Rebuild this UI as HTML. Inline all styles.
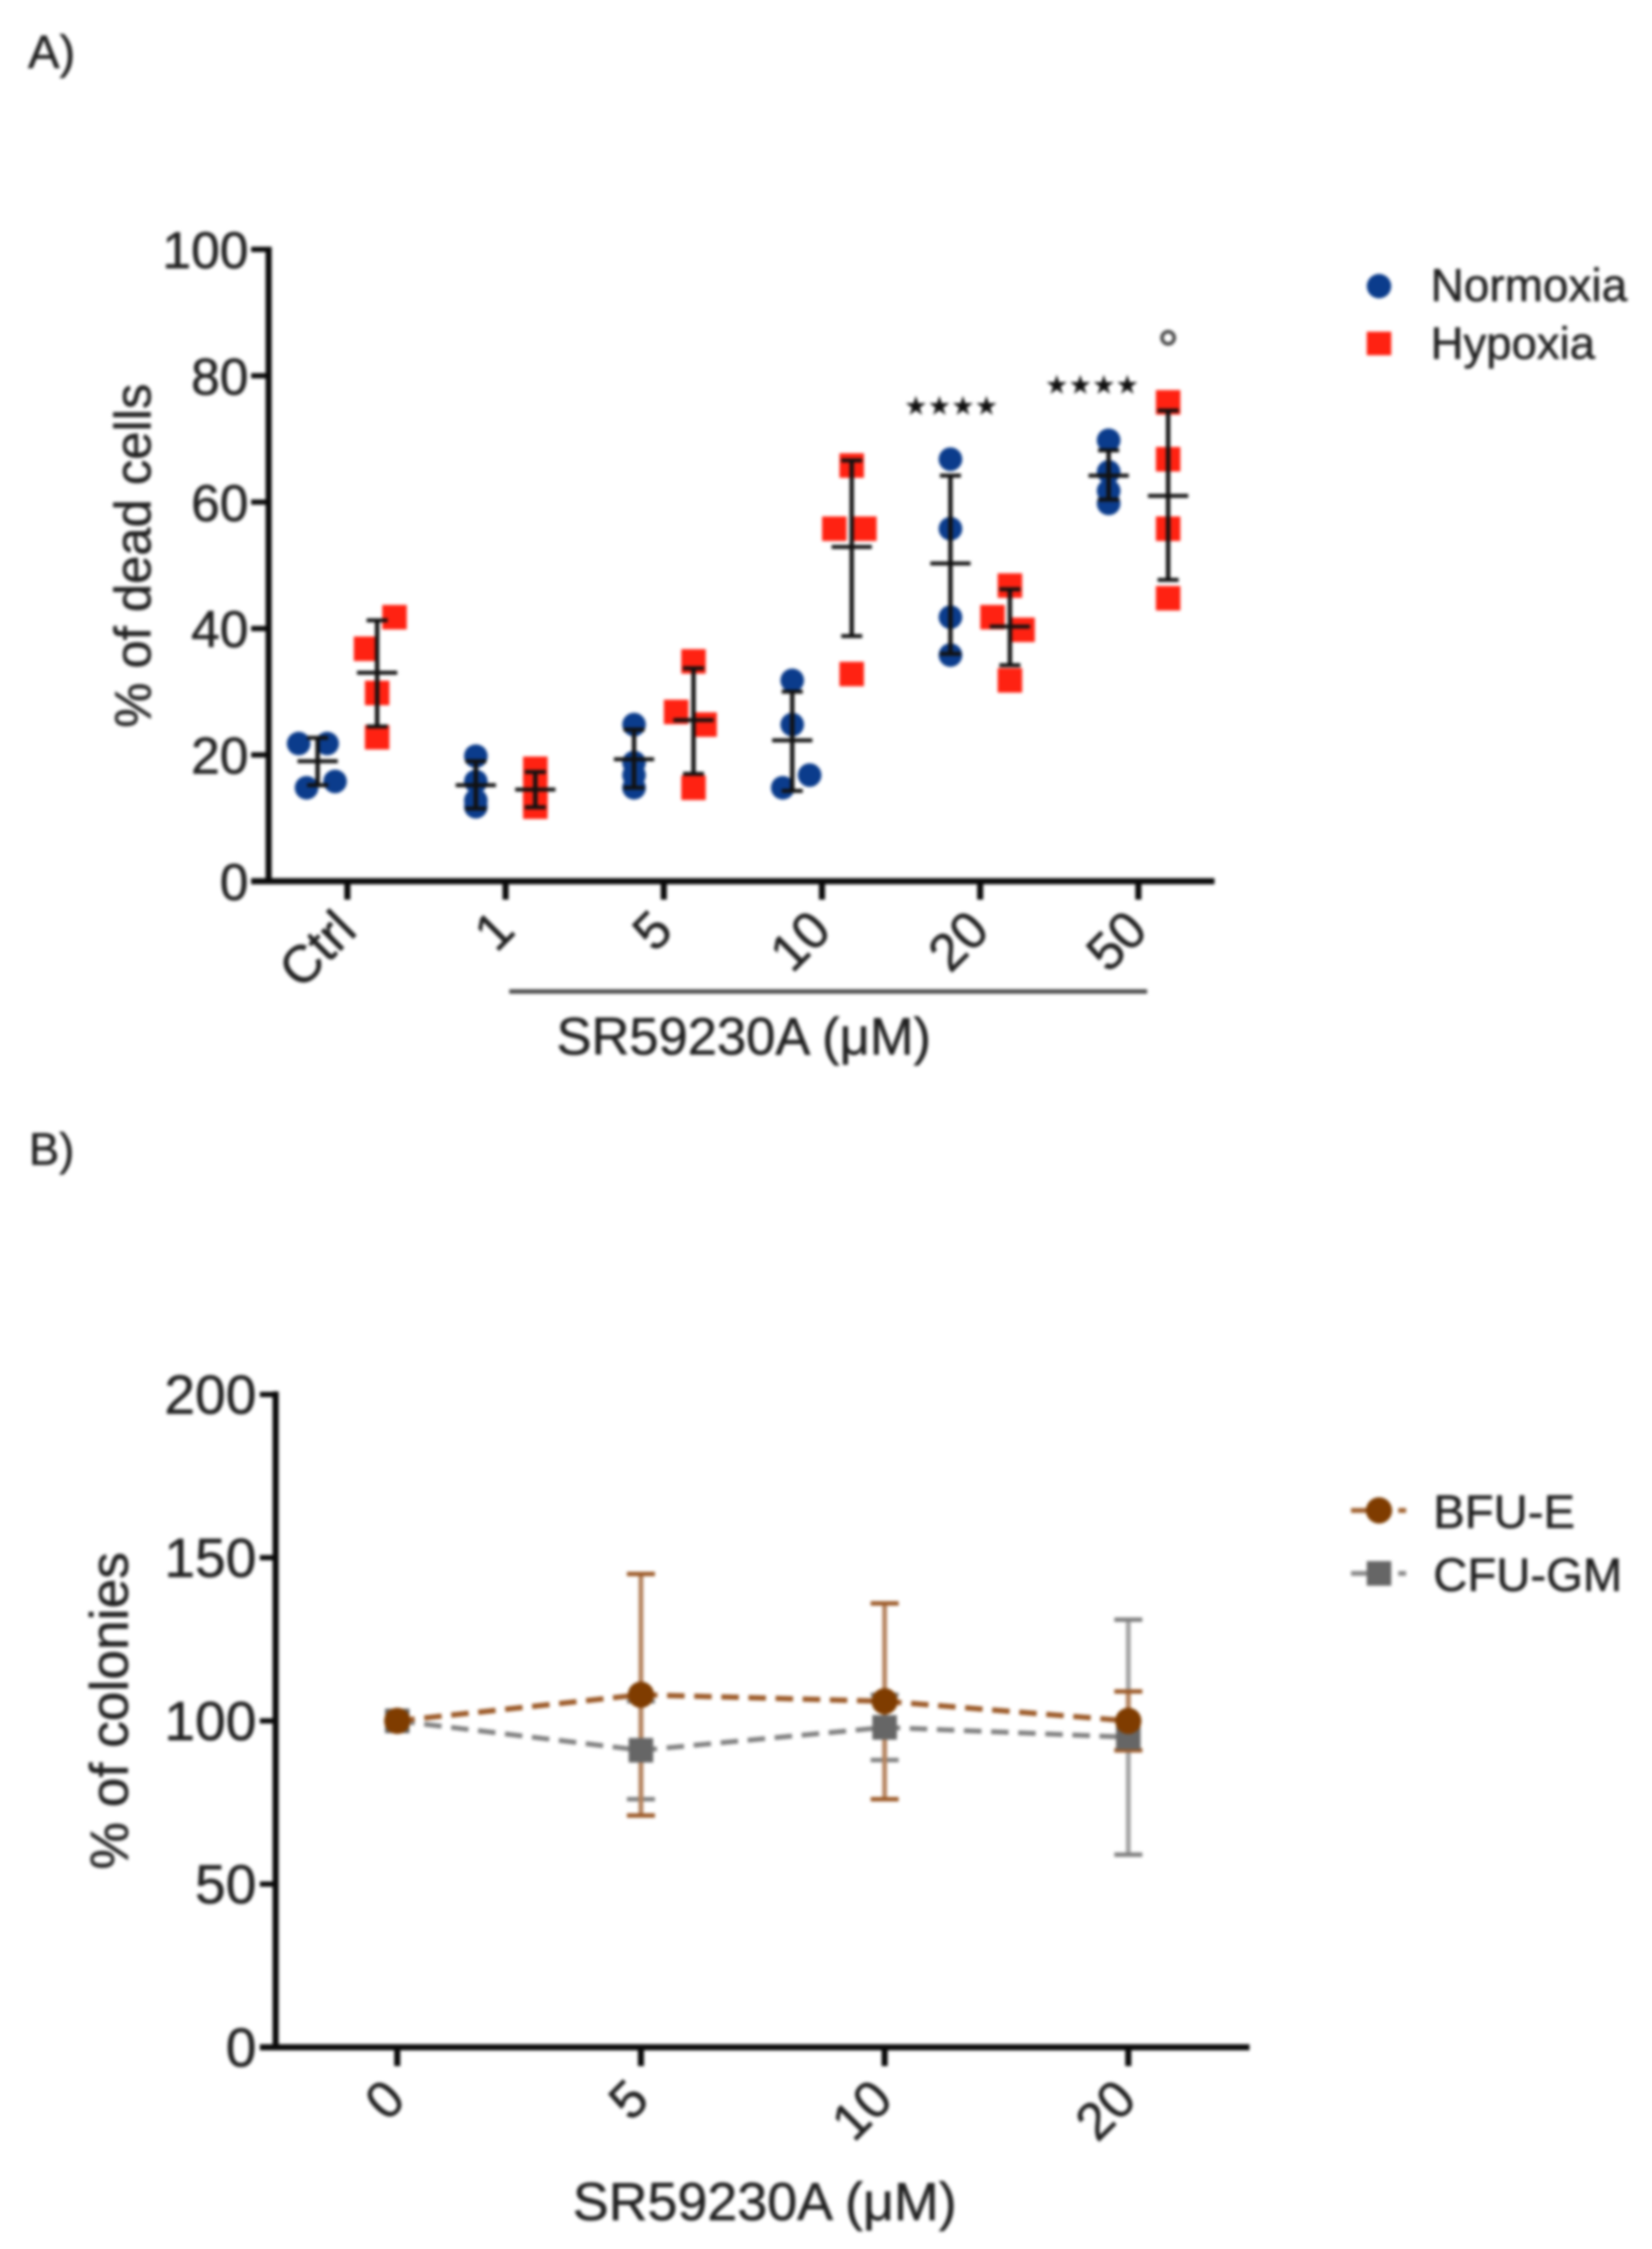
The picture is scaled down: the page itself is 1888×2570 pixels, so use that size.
<!DOCTYPE html>
<html lang="en">
<head>
<meta charset="utf-8">
<title>SR59230A dead cells and colonies</title>
<style>
html,body{margin:0;padding:0;background:#fff;}
#figure{display:block;width:1888px;height:2570px;filter:blur(1.8px);}
text{font-family:"Liberation Sans",Arial,sans-serif;fill:#222;stroke:#222;stroke-width:0.6px;}
</style>
</head>
<body>
<svg id="figure" xmlns="http://www.w3.org/2000/svg" width="1888" height="2570" viewBox="0 0 1888 2570">
  <rect x="0" y="0" width="1888" height="2570" fill="#fff"/>
  <text x="32" y="78" font-size="54">A)</text>
  <text x="33" y="1331" font-size="52">B)</text>

  <g id="chartA"></g>
  <text transform="translate(172 635) rotate(-90)" text-anchor="middle" font-size="58">% of dead cells</text>
  <line x1="582" y1="1133" x2="1311" y2="1133" stroke="#4a4a4a" stroke-width="5"/>
  <text x="850" y="1205" text-anchor="middle" font-size="60">SR59230A (μM)</text>
  <text x="1087" y="474" text-anchor="middle" font-size="30" style="font-family:'DejaVu Sans',sans-serif;fill:#111;stroke:none">★★★★</text>
  <text x="1248" y="450" text-anchor="middle" font-size="30" style="font-family:'DejaVu Sans',sans-serif;fill:#111;stroke:none">★★★★</text>
  <circle cx="1335" cy="386" r="7" fill="none" stroke="#444" stroke-width="4"/>

  <circle cx="1576" cy="327" r="14" fill="#0b3c8c"/>
  <text x="1635" y="344" font-size="52.5">Normoxia</text>
  <rect x="1562" y="379" width="28" height="27" fill="#ff2212"/>
  <text x="1635" y="410" font-size="52">Hypoxia</text>

  <g id="chartB"></g>
  <text transform="translate(146 1955) rotate(-90)" text-anchor="middle" font-size="61">% of colonies</text>
  <text x="874" y="2537" text-anchor="middle" font-size="61.5">SR59230A (μM)</text>

  <line x1="1544" y1="1726" x2="1607" y2="1726" stroke="#a0612f" stroke-width="5.5" stroke-dasharray="46 8 9"/>
  <circle cx="1576" cy="1726" r="15" fill="#7f3c00"/>
  <text x="1638" y="1746" font-size="54">BFU-E</text>
  <line x1="1544" y1="1798" x2="1607" y2="1798" stroke="#8a8a8a" stroke-width="5.5" stroke-dasharray="46 8 9"/>
  <rect x="1562" y="1784" width="28" height="28" fill="#666"/>
  <text x="1638" y="1818" font-size="54">CFU-GM</text>
</svg>
<script>
/* Panel A data */
const categoriesA = ['Ctrl', '1', '5', '10', '20', '50'];
const yTicksA = [0, 20, 40, 60, 80, 100];
const normoxiaValues = [[22, 22, 15, 16], [20, 16, 13, 12], [25, 19, 17, 15], [32, 25, 17, 15], [67, 56, 42, 36], [70, 65, 62, 60]];
const normoxiaSpread = [[-0.12, 0.06, -0.07, 0.11], [0, 0, 0, 0], [0, 0, 0, 0], [0, 0, 0.11, -0.06], [0, 0, 0, 0], [0, 0, 0, 0]];
const normoxiaMean = [19, 15.2, 19.3, 22.3, 50.3, 64.2];
const normoxiaUpper = [22.7, 19, 24, 30, 64.2, 68.2];
const normoxiaLower = [15.2, 11.5, 14.8, 14.3, 36, 60.4];
const hypoxiaValues = [[42, 37, 30, 23], [18, 15, 13, 12], [35, 27, 25, 15], [66, 56, 56, 33], [47, 42, 40, 32], [76, 67, 56, 45]];
const hypoxiaSpread = [[0.11, -0.07, 0, 0], [0, 0, 0, 0], [0, -0.11, 0.07, 0], [0, -0.11, 0.08, 0], [0, -0.11, 0.08, 0], [0, 0, 0, 0]];
const hypoxiaMean = [33, 14.5, 25.5, 52.9, 40.3, 61];
const hypoxiaUpper = [41.3, 17.3, 33.7, 66.6, 46.2, 74.5];
const hypoxiaLower = [24.5, 11.7, 17, 38.8, 34.2, 47.7];

/* Panel B data */
const categoriesB = ['0', '5', '10', '20'];
const yTicksB = [0, 50, 100, 150, 200];
const bfuValues = [100, 108, 106, 100];
const bfuUpper = [100, 145, 136, 109];
const bfuLower = [100, 71, 76, 91];
const cfuValues = [100, 91, 98, 95];
const cfuUpper = [100, 106, 108, 131];
const cfuLower = [100, 76, 88, 59];

/* Axis functions */
const xA = function (c) { return 397 + 180.8 * c; };
const yA = function (v) { return 1007 - 7.22 * v; };
const xB = function (c) { return 454 + 278.5 * c; };
const yB = function (v) { return 2339.5 - 3.73 * v; };

const NS = 'http://www.w3.org/2000/svg';
function mk(parent, tag, attrs) {
  const el = document.createElementNS(NS, tag);
  for (const k in attrs) { el.setAttribute(k, attrs[k]); }
  parent.appendChild(el);
  return el;
}

const gA = document.getElementById('chartA');
const gB = document.getElementById('chartB');
const axisInk = '#0a0a0a';

/* Panel A axes */
let el = mk(gA, 'line', { x1: 307, y1: 282, x2: 307, y2: 1010, stroke: axisInk, 'stroke-width': 7 });


el = mk(gA, 'line', { x1: 287, y1: yA(0), x2: 1388, y2: yA(0), stroke: axisInk, 'stroke-width': 7 });



yTicksA.forEach(function (t) {
  let e = mk(gA, 'line', { x1: 287, y1: yA(t), x2: 307, y2: yA(t), stroke: axisInk, 'stroke-width': 6 });
  
  
  e = mk(gA, 'text', { x: 284, y: yA(t) + 21.5, 'text-anchor': 'end', 'font-size': 59 });
  e.textContent = String(t);
  
  
});

categoriesA.forEach(function (name, c) {
  let e = mk(gA, 'line', { x1: xA(c), y1: yA(0), x2: xA(c), y2: 1028, stroke: axisInk, 'stroke-width': 7 });
  
  
  e = mk(gA, 'text', { 'text-anchor': 'end', 'font-size': 60, transform: 'translate(' + (xA(c) + 13) + ' 1066) rotate(-45)' });
  e.textContent = name;
  
  
});

/* Panel A marks */
const groupShift = 0.188;
const markerDrop = 1.5;
function drawWhisker(g, cx, mean, upper, lower) {
  let e = mk(g, 'line', { x1: cx, y1: yA(upper), x2: cx, y2: yA(lower), stroke: '#111', 'stroke-width': 5 });
  
  
  e = mk(g, 'line', { x1: cx - 12, y1: yA(upper), x2: cx + 12, y2: yA(upper), stroke: '#111', 'stroke-width': 4.5 });
  
  
  e = mk(g, 'line', { x1: cx - 12, y1: yA(lower), x2: cx + 12, y2: yA(lower), stroke: '#111', 'stroke-width': 4.5 });
  
  
  e = mk(g, 'line', { x1: cx - 23, y1: yA(mean), x2: cx + 23, y2: yA(mean), stroke: '#111', 'stroke-width': 4.5 });
  
  
}

categoriesA.forEach(function (name, c) {
  normoxiaValues[c].forEach(function (v, i) {
    const e = mk(gA, 'circle', { cx: xA(c - groupShift + normoxiaSpread[c][i]), cy: yA(v) + markerDrop, r: 13.5, fill: '#0b3c8c' });
    
    
  });
  hypoxiaValues[c].forEach(function (v, i) {
    const e = mk(gA, 'rect', { x: xA(c + groupShift + hypoxiaSpread[c][i]) - 14, y: yA(v) + markerDrop - 14, width: 28, height: 28, fill: '#ff2212' });
    
    
  });
  drawWhisker(gA, xA(c - groupShift), normoxiaMean[c], normoxiaUpper[c], normoxiaLower[c]);
  drawWhisker(gA, xA(c + groupShift), hypoxiaMean[c], hypoxiaUpper[c], hypoxiaLower[c]);
});

/* Panel B axes */
el = mk(gB, 'line', { x1: 315, y1: 1590, x2: 315, y2: 2343, stroke: axisInk, 'stroke-width': 7 });


el = mk(gB, 'line', { x1: 297, y1: yB(0), x2: 1428, y2: yB(0), stroke: axisInk, 'stroke-width': 7 });



yTicksB.forEach(function (t) {
  let e = mk(gB, 'line', { x1: 297, y1: yB(t), x2: 315, y2: yB(t), stroke: axisInk, 'stroke-width': 6 });
  
  
  e = mk(gB, 'text', { x: 293, y: yB(t) + 22, 'text-anchor': 'end', 'font-size': 63 });
  e.textContent = String(t);
  
  
});

categoriesB.forEach(function (name, c) {
  let e = mk(gB, 'line', { x1: xB(c), y1: yB(0), x2: xB(c), y2: 2361, stroke: axisInk, 'stroke-width': 7 });
  
  
  e = mk(gB, 'text', { 'text-anchor': 'end', 'font-size': 60, transform: 'translate(' + (xB(c) + 12) + ' 2402) rotate(-45)' });
  e.textContent = name;
  
  
});

/* Panel B marks */
function drawErrorsB(c, upper, lower, lineColor, capColor) {
  const cx = xB(c);
  let e = mk(gB, 'line', { x1: cx, y1: yB(upper), x2: cx, y2: yB(lower), stroke: lineColor, 'stroke-width': 5.5 });
  
  
  e = mk(gB, 'line', { x1: cx - 16, y1: yB(upper), x2: cx + 16, y2: yB(upper), stroke: capColor, 'stroke-width': 5 });
  
  
  e = mk(gB, 'line', { x1: cx - 16, y1: yB(lower), x2: cx + 16, y2: yB(lower), stroke: capColor, 'stroke-width': 5 });
  
  
}

categoriesB.forEach(function (name, c) {
  if (c > 0) { drawErrorsB(c, cfuUpper[c], cfuLower[c], '#a3a3a3', '#808080'); }
});
categoriesB.forEach(function (name, c) {
  if (c > 0) { drawErrorsB(c, bfuUpper[c], bfuLower[c], '#b5845f', '#9c5a28'); }
});

const cfuPoints = cfuValues.map(function (v, c) { return xB(c) + ',' + yB(v); }).join(' ');
el = mk(gB, 'polyline', { points: cfuPoints, fill: 'none', stroke: '#808080', 'stroke-width': 5.5, 'stroke-dasharray': '20 11' });


const bfuPoints = bfuValues.map(function (v, c) { return xB(c) + ',' + yB(v); }).join(' ');
el = mk(gB, 'polyline', { points: bfuPoints, fill: 'none', stroke: '#9c5a28', 'stroke-width': 6, 'stroke-dasharray': '20 11' });



cfuValues.forEach(function (v, c) {
  const e = mk(gB, 'rect', { x: xB(c) - 14, y: yB(v) - 14, width: 28, height: 28, fill: '#666' });
  
  
});
bfuValues.forEach(function (v, c) {
  const e = mk(gB, 'circle', { cx: xB(c), cy: yB(v), r: 15, fill: '#7f3c00' });
  
  
});
</script>
</body>
</html>
